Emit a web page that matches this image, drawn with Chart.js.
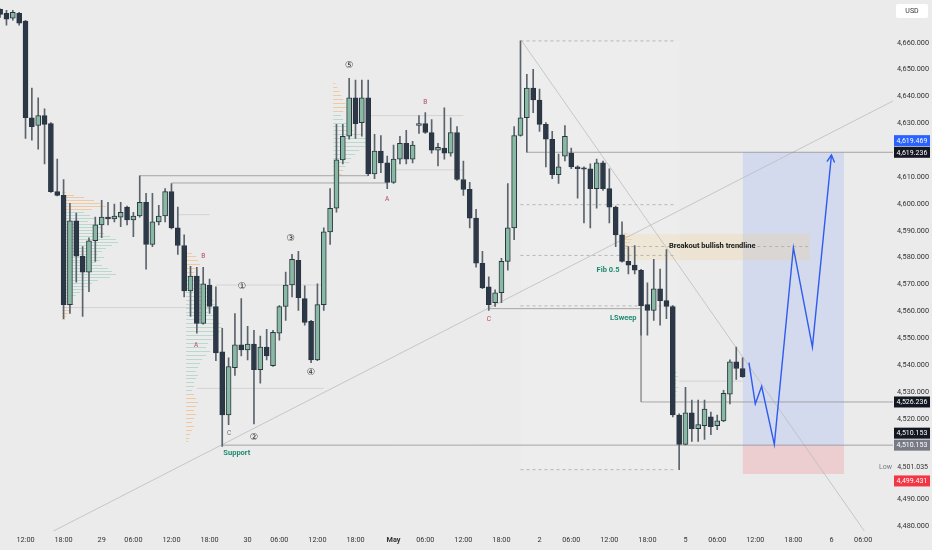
<!DOCTYPE html>
<html><head><meta charset="utf-8">
<script src="https://cdn.jsdelivr.net/npm/chart.js@4.4.0/dist/chart.umd.min.js"></script>
<style>html,body{margin:0;padding:0;background:#ebebeb;}canvas{display:block}</style>
</head><body>
<canvas id="c" width="932" height="550"></canvas>
<script>
// ---------- DATA ----------
const firstSlot = -4; // hourly candle slots, slot 0 = Apr 28 12:00
const opens = [4672.5,4671.0,4669.2,4671.0,
 4668.1,4632.1,4629.2,4632.9,4629.9,4604.6,4603.2,4562.5,4593.7,4580.5,
 4574.6,4586.3,4592.2,4595.1,4594.4,4595.1,4598.8,4594.0,4595.5,4600.6,
 4584.9,4593.3,4595.5,4604.6,4591.1,4584.5,4567.6,4573.1,4555.5,4569.8,
 4561.8,4544.9,4521.4,4539.0,4547.5,4545.6,4547.8,4538.3,4546.7,4539.8,
 4551.9,4561.8,4569.8,4579.0,4564.7,4556.3,4541.9,4562.5,4589.6,4598.4,
 4616.4,4625.2,4639.5,4630.3,4639.5,4611.2,4619.7,4615.3,4608.0,4616.7,
 4622.6,4616.7,4629.2,4629.9,4626.6,4620.0,4620.8,4618.9,4626.6,4609.1,
 4605.4,4594.7,4577.9,4569.1,4563.2,4566.9,4578.6,4591.1,4625.5,4632.1,
 4643.1,4638.7,4629.6,4624.1,4610.9,4617.8,4618.9,4613.8,4613.4,4613.1,
 4605.7,4615.3,4605.7,4598.8,4588.5,4578.6,4577.2,4575.3,4562.5,4560.3,
 4568.4,4564.0,4561.8,4521.4,4510.4,4522.2,4516.3,4517.4,4520.7,4517.4,
 4519.2,4529.1,4541.2,4538.7];
const highs = [4673.9,4672.1,4672.1,4671.4,
 4668.4,4643.1,4639.5,4635.4,4630.3,4616.7,4609.1,4600.2,4596.6,4584.1,
 4587.4,4595.1,4601.3,4600.6,4599.9,4600.6,4599.2,4596.9,4610.5,4603.9,
 4603.9,4599.5,4605.7,4607.6,4598.8,4588.5,4576.8,4576.4,4576.4,4572.0,
 4569.1,4553.7,4542.7,4559.2,4564.7,4554.4,4552.9,4550.8,4553.3,4552.9,
 4562.1,4574.6,4581.2,4582.3,4569.5,4556.6,4570.2,4591.1,4605.7,4629.6,
 4629.6,4646.8,4646.1,4646.1,4646.1,4625.9,4625.5,4617.8,4621.9,4625.2,
 4627.4,4623.3,4632.9,4634.0,4631.4,4622.6,4635.8,4632.1,4628.8,4616.0,
 4608.0,4598.0,4582.3,4572.8,4568.0,4579.7,4607.6,4628.8,4660.7,4648.3,
 4650.1,4642.8,4630.3,4627.0,4618.6,4629.2,4620.8,4614.2,4613.8,4614.9,
 4616.7,4616.0,4613.1,4599.2,4593.3,4584.1,4584.5,4575.6,4570.6,4579.4,
 4575.7,4583.0,4562.1,4521.8,4531.7,4526.9,4526.9,4526.9,4522.5,4521.4,
 4530.6,4541.9,4546.7,4542.7];
const lows = [4669.5,4666.6,4668.4,4666.6,
 4624.4,4623.7,4620.4,4614.9,4604.3,4603.0,4557.3,4559.2,4570.9,4558.1,
 4567.3,4578.6,4587.4,4592.2,4593.3,4591.5,4592.2,4587.8,4595.1,4575.7,
 4584.1,4592.2,4593.3,4590.7,4581.2,4565.4,4558.1,4551.9,4555.2,4559.2,
 4541.6,4509.7,4517.8,4536.1,4543.4,4541.9,4518.1,4533.2,4541.9,4539.5,
 4549.3,4556.6,4565.4,4560.3,4554.8,4540.9,4541.6,4560.3,4584.9,4596.9,
 4614.9,4624.1,4624.4,4625.2,4610.5,4609.4,4611.6,4605.7,4607.6,4614.9,
 4614.9,4615.3,4626.3,4626.3,4618.9,4614.2,4616.7,4617.8,4608.8,4603.2,
 4591.1,4576.4,4568.4,4560.3,4561.8,4563.2,4575.3,4586.7,4625.2,4619.3,
 4634.0,4627.0,4613.8,4609.4,4607.6,4616.0,4613.1,4602.1,4592.9,4591.1,
 4598.4,4605.0,4592.9,4584.1,4578.3,4573.9,4573.9,4551.1,4551.1,4556.6,
 4554.8,4557.3,4520.7,4501.035,4510.2,4511.5,4511.5,4512.3,4514.1,4515.9,
 4518.9,4525.5,4534.6,4535.4];
const closes = [4670.6,4668.8,4671.4,4667.3,
 4632.1,4628.8,4632.9,4629.6,4604.6,4603.2,4562.5,4593.7,4580.5,4574.6,
 4586.3,4592.2,4595.1,4594.4,4595.5,4596.9,4594.0,4595.5,4600.6,4584.9,
 4593.3,4595.5,4604.6,4591.1,4584.5,4567.6,4573.1,4555.5,4570.2,4561.8,
 4544.5,4521.4,4539.4,4547.5,4545.6,4547.8,4538.3,4546.7,4543.4,4552.2,
 4561.8,4569.8,4579.4,4565.1,4555.9,4541.9,4562.5,4589.6,4598.4,4616.4,
 4625.2,4639.5,4629.9,4639.5,4611.2,4619.7,4615.3,4608.0,4616.7,4622.6,
 4616.7,4621.9,4629.9,4626.6,4620.0,4621.1,4618.9,4626.6,4609.1,4605.4,
 4594.7,4577.9,4568.7,4562.5,4566.9,4578.6,4591.1,4625.5,4632.1,4643.1,
 4638.7,4629.6,4624.1,4610.9,4613.8,4625.2,4613.8,4613.1,4612.9,4605.7,
 4615.3,4605.7,4598.8,4588.5,4578.6,4577.2,4575.3,4562.1,4560.3,4568.4,
 4564.0,4561.8,4521.4,4510.4,4522.2,4516.3,4517.8,4523.6,4517.0,4519.2,
 4529.5,4541.2,4538.7,4535.7];

const tickSlots  = [0,6,12,17,23,29,35,40,46,52,58,63,69,75,81,86,92,98,104,109,115,121,127,132];
const tickLabels = ['12:00','18:00','29','06:00','12:00','18:00','30','06:00','12:00','18:00','May','06:00','12:00','18:00','2','06:00','12:00','18:00','5','06:00','12:00','18:00','6','06:00'];
const priceTicks = [4480,4490,4520,4530,4540,4550,4560,4570,4580,4590,4600,4610,4630,4640,4650,4660];

// projected path (blue)
const projSlots  = [114,115,116,118,121,124,127];
const projPrices = [4540.9,4525.5,4532.1,4510.4,4583.7,4546.7,4618.2];

// key levels
const levelTarget = 4619.236, levelMid = 4526.236, levelSupport = 4510.153, levelStop = 4499.431, lowPrice = 4501.035, markPrice = 4619.469;
const fibHigh = 4660.7, fibLow = 4501.0, fibRatios = [0, 0.382, 0.5, 0.618, 1];

// horizontal segments [fromSlot, toSlot, price]
const darkSegments  = [[18,54,4610.5],[23,57,4607.8],[31,137,levelSupport],[79,137,levelTarget]];
const faintSegments = [[54,69,4632.9],[57,69,4612.7],[24,29,4596.0],[6,30,4561.4],[30,47,4569.8],[27,47,4531.3],[103,113,4534.0]];
const sweepPath = [[73,4561.0],[97,4561.0],[97,levelMid],[137,levelMid]];
const upTrend   = [[4.1,4477.8],[137.0,4638.7]];
const downTrend = [[78.2,4660.7],[132.3,4477.8]];

// annotations [slot, price, text, kind]
const notes = [
 [33.3,4507.1,'Support','teal'],[91.8,4575.3,'Fib 0.5','teal'],[94.2,4557.3,'LSweep','teal'],
 [101.4,4584.1,'Breakout bullish trendline','dark'],
 [34.1,4569.1,'①','wave'],[36.0,4513.0,'②','wave'],[41.8,4587.1,'③','wave'],[45.0,4537.2,'④','wave'],[51.0,4651.6,'⑤','wave'],
 [28.0,4580.5,'B','red'],[26.9,4547.5,'A','red'],[32.1,4514.5,'C','grey'],
 [57.0,4601.7,'A','red'],[63.0,4638.0,'B','red'],[73.0,4557.0,'C','red']
];

// volume profiles: anchor slot, top price, price step, volumes, kind per row (o=upper/lower, t=value area)
const profiles = [
 {anchor:5.75, top:4604.6, step:1.1,
  vols:[4,12,22,32,38,44,30, 22,28,34,26,38,40,30,42,48,54,56,50,44,40,36,42,38,34,40,46,50,54,48,36,30,26,22,18,14,10, 8,12,10,8,6,4,3],
  kinds:'ooooooo'+'tttttttttttttttttttttttttttttt'+'ooooooo'},
 {anchor:25.3, top:4581.9, step:1.466,
  vols:[6,10,12,14,10,8, 10,14,18,22,26,24,28,30,26,22,28,32,34,36,34,30,26,22,20,24,20,16,14,12,10,12,10,8,8,6, 8,10,12,10,8,10,8,6,8,6,4,3,2],
  kinds:'oooooo'+'tttttttttttttttttttttttttttttt'+'ooooooooooooo'},
 {anchor:48.5, top:4644.97, step:1.466,
  vols:[2,4,6,8,10,12,14,10, 8,10,14,16,20,28,34,36,32,26,22,18,16,12, 10,8,4],
  kinds:'oooooooo'+'tttttttttttttt'+'ooo'},
 {anchor:94.3, top:4589.0, step:1.1, vols:[3,6,8,6,4,3], kinds:'oooooo'},
 {anchor:101.9, top:4539.0, step:1.466, vols:[3,5,6,5,4,6,5,4,3], kinds:'ttttttttt'}
];

// price tags [price, text, bg, fg, nudge]
const tags = [
 [markPrice,'4,619.469','#2962ff','#ffffff',-11],
 [levelTarget,'4,619.236','#131722','#ffffff',0],
 [levelMid,'4,526.236','#131722','#ffffff',0],
 [levelSupport,'4,510.153','#131722','#ffffff',-12],
 [levelSupport,'4,510.153','#787b86','#ffffff',0],
 [levelStop,'4,499.431','#f23645','#ffffff',7]
];

// ---------- STYLE ----------
const BG = '#ebebeb';
const X_MIN = -4.02, X_MAX = 136.7, Y_MIN = 4478.18, Y_MAX = 4672.83;
const BULL = '#88b9a2', BEAR = '#2c3848', EDGE = '#2a3541', WICK = '#5b636c';
const FONT = 'Roboto, "Liberation Sans", sans-serif';
const PROFILE_UNIT = 0.1576;

const candles = opens.map((o,i)=>({x:firstSlot+i,o,h:highs[i],l:lows[i],c:closes[i]}));

function seg(points, color, width, dash, order, extra){
  return Object.assign({type:'line', data:points.map(p=>({x:p[0],y:p[1]})), borderColor:color,
    borderWidth:width, borderDash:dash||[], pointRadius:0, pointHoverRadius:0, fill:false, tension:0, order:order}, extra||{});
}
function box(x0,x1,pTop,pBot,color){
  return seg([[x0,pTop],[x1,pTop]],'rgba(0,0,0,0)',0,null,6,{fill:{value:pBot},backgroundColor:color});
}

const datasets = [];
datasets.push({type:'bar', data:candles.map(k=>({x:k.x,y:[k.l,k.h]})), backgroundColor:WICK, borderWidth:0,
  barThickness:1, grouped:false, order:2});
datasets.push({type:'bar', data:candles.map(k=>({x:k.x,y:[k.o,k.c]})), backgroundColor:candles.map(k=>k.c>=k.o?BULL:BEAR),
  borderColor:EDGE, borderWidth:1, borderSkipped:false, barThickness:5, minBarLength:1, grouped:false, order:1});
// boxes
datasets.push(box(78,103.1,fibHigh,fibLow,'rgba(255,255,255,0.14)'));
datasets.push(box(94.5,123.6,4588.9,4579.0,'rgba(238,205,140,0.26)'));
datasets.push(box(113,129,levelTarget,levelSupport,'rgba(41,98,255,0.12)'));
datasets.push(box(113,129,levelSupport,levelStop,'rgba(242,54,69,0.16)'));
// fib dashed
fibRatios.forEach(r=>{ const p = fibHigh-(fibHigh-fibLow)*r; datasets.push(seg([[78,p],[102.6,p]],'#a9a9a9',0.8,[3,3],4)); });
datasets.push(seg([[94.5,4584.1],[123.6,4584.1]],'#ababab',0.8,[3,3],4));
// lines
darkSegments.forEach(s=>datasets.push(seg([[s[0],s[2]],[s[1],s[2]]],'#939393',0.8,null,3)));
faintSegments.forEach(s=>datasets.push(seg([[s[0],s[2]],[s[1],s[2]]],'#cdcdcd',0.8,null,3)));
datasets.push(seg(sweepPath,'#939393',0.8,null,3));
datasets.push(seg(upTrend,'#bdbdbd',0.8,null,3));
datasets.push(seg(downTrend,'#bdbdbd',0.8,null,3));
// projection
datasets.push(seg(projSlots.map((s,i)=>[s,projPrices[i]]),'#2f5bf0',1.4,null,0));

const overlay = {
  id:'overlay',
  beforeDraw(chart){ const c=chart.ctx; c.save(); c.fillStyle=BG; c.fillRect(0,0,chart.width,chart.height); c.restore(); },
  beforeDatasetsDraw(chart){
    const c=chart.ctx, xs=chart.scales.x, ys=chart.scales.y, a=chart.chartArea;
    c.save(); c.beginPath(); c.rect(a.left,a.top,a.right-a.left,a.bottom-a.top); c.clip();
    c.lineWidth=1;
    profiles.forEach(pr=>{
      pr.vols.forEach((v,i)=>{
        const y=Math.round(ys.getPixelForValue(pr.top-i*pr.step))+0.5;
        const x0=xs.getPixelForValue(pr.anchor), x1=xs.getPixelForValue(pr.anchor+v*PROFILE_UNIT);
        c.strokeStyle = pr.kinds[i]==='o' ? 'rgba(244,170,85,0.5)' : 'rgba(110,190,165,0.4)';
        c.beginPath(); c.moveTo(x0,y); c.lineTo(x1,y); c.stroke();
      });
    });
    c.restore();
  },
  afterDatasetsDraw(chart){
    const c=chart.ctx, xs=chart.scales.x, ys=chart.scales.y;
    // arrow head
    const n=projSlots.length;
    const ex=xs.getPixelForValue(projSlots[n-1]), ey=ys.getPixelForValue(projPrices[n-1]);
    const px=xs.getPixelForValue(projSlots[n-2]), py=ys.getPixelForValue(projPrices[n-2]);
    const ang=Math.atan2(ey-py,ex-px), L=8;
    c.save(); c.strokeStyle='#2f5bf0'; c.lineWidth=1.4; c.beginPath();
    c.moveTo(ex-L*Math.cos(ang-0.5),ey-L*Math.sin(ang-0.5)); c.lineTo(ex,ey);
    c.lineTo(ex-L*Math.cos(ang+0.5),ey-L*Math.sin(ang+0.5)); c.stroke();
    // notes
    c.textBaseline='middle';
    notes.forEach(([s,p,t,k])=>{
      const x=xs.getPixelForValue(s), y=ys.getPixelForValue(p);
      c.textAlign='center';
      if(k==='teal'){ c.font='bold 7.5px '+FONT; c.fillStyle='#1d8a6f'; }
      else if(k==='dark'){ c.font='bold 7.5px '+FONT; c.fillStyle='#1a1a1a'; c.textAlign='left'; }
      else if(k==='wave'){ c.font='9.5px "DejaVu Sans"'; c.fillStyle='#333333'; }
      else if(k==='red'){ c.font='6.5px '+FONT; c.fillStyle='#b3495c'; }
      else { c.font='6.5px '+FONT; c.fillStyle='#6d6d7d'; }
      c.fillText(t,x,y);
    });
    c.restore();
  },
  afterDraw(chart){
    const c=chart.ctx, ys=chart.scales.y;
    c.save(); c.textBaseline='middle'; c.textAlign='center';
    tags.forEach(([p,t,bg,fg,nudge])=>{
      const y=ys.getPixelForValue(p)+nudge;
      c.fillStyle=bg; c.fillRect(894,y-5.5,36,11);
      c.fillStyle=fg; c.font='7px '+FONT; c.fillText(t,912,y+0.5);
    });
    // low label
    const ly=ys.getPixelForValue(lowPrice)-2;
    c.textAlign='right'; c.fillStyle='#787b86'; c.font='7px '+FONT; c.fillText('Low',892,ly);
    c.fillStyle='#333333'; c.fillText('4,501.035',928,ly);
    // currency box
    c.fillStyle='#ffffff'; c.beginPath(); c.roundRect(896,4,32,14,2); c.fill();
    c.fillStyle='#333333'; c.textAlign='center'; c.fillText('USD',912,11.5);
    c.restore();
  }
};

new Chart(document.getElementById('c'),{
  type:'bar',
  data:{datasets},
  options:{
    responsive:false, animation:false, devicePixelRatio:1,
    layout:{padding:0},
    plugins:{legend:{display:false}, tooltip:{enabled:false}},
    scales:{
      x:{type:'linear', min:X_MIN, max:X_MAX, offset:false, bounds:'data',
        grid:{display:false, drawTicks:false}, border:{display:false},
        afterBuildTicks:s=>{ s.ticks=tickSlots.map(v=>({value:v})); },
        afterFit:s=>{ s.height=19; },
        ticks:{autoSkip:false, maxRotation:0, minRotation:0, padding:5, color:'#333333',
          font:ctx=>({size:7.3, family:FONT, weight: tickLabels[ctx.index]==='May'?'bold':'normal'}),
          callback:(v,i)=>tickLabels[i]}},
      y:{type:'linear', position:'right', min:Y_MIN, max:Y_MAX, bounds:'data',
        grid:{display:false, drawTicks:false}, border:{display:false},
        afterBuildTicks:s=>{ s.ticks=priceTicks.map(v=>({value:v})); },
        afterFit:s=>{ s.width=39; },
        ticks:{crossAlign:'near', padding:4, color:'#333333', font:{size:7.3, family:FONT},
          callback:v=>v.toLocaleString('en-US',{minimumFractionDigits:3,maximumFractionDigits:3})}}
    }
  },
  plugins:[overlay]
});
</script>
</body></html>
